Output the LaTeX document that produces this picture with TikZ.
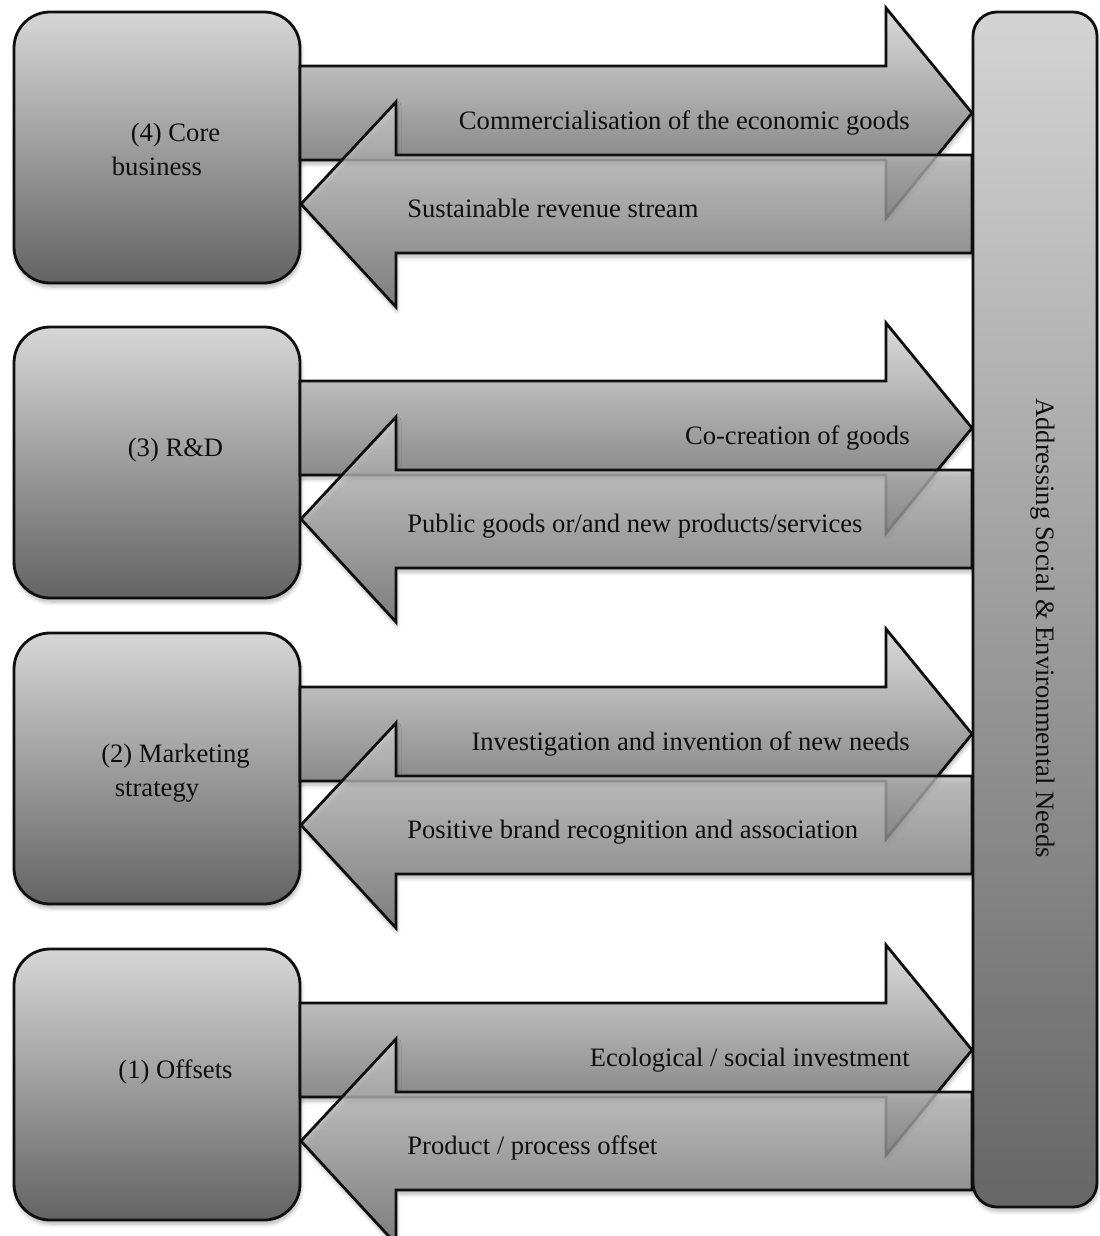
\documentclass[tikz,border=0pt]{standalone}
\usepackage{fontspec}
\setmainfont{Liberation Serif}
\usetikzlibrary{shadows.blur}
\definecolor{boxtop}{gray}{0.84}
\definecolor{boxbot}{gray}{0.39}
\definecolor{arrtop}{gray}{0.86}
\definecolor{arrbot}{gray}{0.42}
\definecolor{talltop}{gray}{0.83}
\definecolor{tallbot}{gray}{0.40}
\definecolor{ink}{gray}{0.06}
\begin{document}
\begin{tikzpicture}[x=0.5pt,y=-0.5pt,
  txt/.style={font=\fontsize{13.3}{17}\selectfont, inner sep=0pt, text=ink},
  sh/.style={blur shadow={shadow xshift=0.5pt, shadow yshift=-2pt, shadow blur radius=2pt, shadow blur steps=6, shadow opacity=30}},
  box/.style={draw=ink, line width=1.4pt, rounded corners=18pt, top color=boxtop, bottom color=boxbot, minimum width=143pt, minimum height=135.5pt, inner sep=0pt, sh},
  tallbox/.style={draw=ink, line width=1.4pt, rounded corners=12pt, top color=talltop, bottom color=tallbot, minimum width=62pt, minimum height=597.5pt, inner sep=0pt, sh},
  rarrow/.style={draw=ink, line width=1.4pt, line join=miter, top color=arrtop, bottom color=arrbot, sh},
  larrow/.style={rarrow, fill opacity=0.75},
]
\useasboundingbox (0,0) rectangle (1099,1236);

% left boxes
\node[box] (b4) at (157,147.5) {};
\node[box] (b3) at (157,462.5) {};
\node[box] (b2) at (157,768.5) {};
\node[box] (b1) at (157,1084.5) {};

% arrows
\foreach \off in {0,315,621,937}{
  \draw[rarrow] (300,66+\off) -- (886,66+\off) -- (886,8+\off) -- (972,113+\off)
     -- (886,218+\off) -- (886,160+\off) -- (300,160+\off) -- cycle;
  \draw[larrow] (301,204+\off) -- (396,102+\off) -- (396,155+\off) -- (972,155+\off)
     -- (972,253+\off) -- (396,253+\off) -- (396,307+\off) -- cycle;
}

% tall box
\node[tallbox] (goal) at (1035,609.5) {};
\node[txt, rotate=-90] (goaltext) at (1043,628) {Addressing Social \& Environmental Needs};

% box labels
\node[txt, anchor=base] (t4a) at (175.5,141) {(4) Core};
\node[txt, anchor=base] (t4b) at (157,175) {business};
\node[txt, anchor=base] (t3a) at (175.5,456) {(3) R\&D};
\node[txt, anchor=base] (t2a) at (175.5,762) {(2) Marketing};
\node[txt, anchor=base] (t2b) at (157,796) {strategy};
\node[txt, anchor=base] (t1a) at (175.5,1078) {(1) Offsets};

% arrow labels
\node[txt, anchor=base east] (r4) at (910,129) {Commercialisation of the economic goods};
\node[txt, anchor=base west] (l4) at (407,217) {Sustainable revenue stream};
\node[txt, anchor=base east] (r3) at (910,444) {Co-creation of goods};
\node[txt, anchor=base west] (l3) at (407,532) {Public goods or/and new products/services};
\node[txt, anchor=base east] (r2) at (910,750) {Investigation and invention of new needs};
\node[txt, anchor=base west] (l2) at (407,838) {Positive brand recognition and association};
\node[txt, anchor=base east] (r1) at (910,1066) {Ecological / social investment};
\node[txt, anchor=base west] (l1) at (407,1154) {Product / process offset};
\end{tikzpicture}
\end{document}
